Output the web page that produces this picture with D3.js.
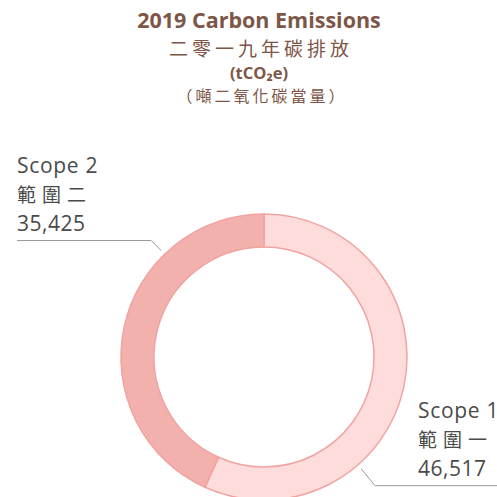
<!DOCTYPE html>
<html>
<head>
<meta charset="utf-8">
<script src="https://cdn.jsdelivr.net/npm/d3@7/dist/d3.min.js"></script>
<style>
  body { margin: 0; background: #fff; }
  svg { display: block; }
</style>
</head>
<body>
<svg id="chart" width="497" height="497"></svg>
<script>
// data
var scopes = ['Scope 1', 'Scope 2'];
var scopesZh = ['範圍一', '範圍二'];
var emissions = [46517, 35425];
var colors = ['#fedcdc', '#f3b1ae'];

var titleLines = ['2019 Carbon Emissions', '二零一九年碳排放', '(tCO₂e)', '（噸二氧化碳當量）'];

var svg = d3.select('#chart');
var width = +svg.attr('width');
var height = +svg.attr('height');

var cx = 264, cy = 357;
var outerR = 143, innerR = 110;

var fontLatin = '"Open Sans", "Noto Sans CJK TC", sans-serif';
var fontCjk = '"Noto Sans CJK TC", "Open Sans", sans-serif';
var brown = '#7d5648';

// title
var titleG = svg.append('g').attr('text-anchor', 'middle');
titleG.append('text').attr('x', 259).attr('y', 28)
    .style('font-family', fontLatin).style('font-weight', 700)
    .style('font-size', '21.5px').style('fill', brown)
    .text(titleLines[0]);
titleG.append('text').attr('x', 261).attr('y', 56)
    .style('font-family', fontCjk).style('font-weight', 400)
    .style('font-size', '19px').style('letter-spacing', '4px').style('fill', brown)
    .text(titleLines[1]);
titleG.append('text').attr('x', 259).attr('y', 79)
    .style('font-family', fontLatin).style('font-weight', 700)
    .style('font-size', '16.5px').style('fill', brown)
    .text(titleLines[2]);
titleG.append('text').attr('x', 262).attr('y', 102)
    .style('font-family', fontCjk).style('font-weight', 400)
    .style('font-size', '16px').style('letter-spacing', '3px').style('fill', brown)
    .text(titleLines[3]);

// donut
var data = scopes.map(function(s, i) {
    return {name: s, zh: scopesZh[i], value: emissions[i], color: colors[i]};
});

var pie = d3.pie().sort(null).value(function(d) { return d.value; });
var arc = d3.arc().innerRadius(innerR).outerRadius(outerR);

var donutG = svg.append('g').attr('transform', 'translate(' + cx + ',' + cy + ')');
donutG.selectAll('.slice')
    .data(pie(data))
    .enter().append('path')
    .attr('class', 'slice')
    .attr('d', arc)
    .style('fill', function(d) { return d.data.color; })
    .style('stroke', '#f0a3a0')
    .style('stroke-width', 1.5);

// labels + leader lines
var fmt = d3.format(',');
var labelCfg = [
    {angle: 139, kneeDx: 14, kneeDy: 17, endX: 497, textX: 418, textY: 418},
    {angle: 316, kneeDx: -10, kneeDy: -10, endX: 17, textX: 17, textY: 173}
];

data.forEach(function(d, i) {
    var c = labelCfg[i];
    var a = c.angle * Math.PI / 180;
    var r = outerR + 5;
    var p0 = [cx + r * Math.sin(a), cy - r * Math.cos(a)];
    var p1 = [p0[0] + c.kneeDx, p0[1] + c.kneeDy];
    var p2 = [c.endX, p1[1]];
    svg.append('path')
        .attr('d', d3.line()([p0, p1, p2]))
        .style('fill', 'none')
        .style('stroke', '#999')
        .style('stroke-width', 1);

    var t = svg.append('text')
        .attr('x', c.textX).attr('y', c.textY)
        .style('font-size', '21px').style('fill', '#4a4a4a');
    t.append('tspan').attr('x', c.textX).attr('dy', 0)
        .style('font-family', fontLatin).style('letter-spacing', '0.7px').text(d.name);
    t.append('tspan').attr('x', c.textX).attr('dy', 29)
        .style('font-family', fontCjk).style('letter-spacing', '6px').style('font-size', '19px').text(d.zh);
    t.append('tspan').attr('x', c.textX).attr('dy', 29)
        .style('font-family', fontLatin).style('letter-spacing', '0.5px').text(fmt(d.value));
});
</script>
</body>
</html>
